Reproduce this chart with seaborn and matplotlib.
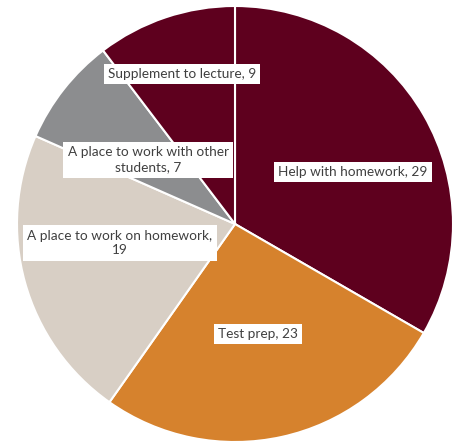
import matplotlib
matplotlib.use("Agg")
import matplotlib.pyplot as plt
import seaborn as sns

# slices, clockwise from 12 o'clock
categories = ["Help with homework", "Test prep", "A place to work on homework",
              "A place to work with other students", "Supplement to lecture"]
counts = [29, 23, 19, 7, 9]
label_texts = ["Help with homework, 29", "Test prep, 23", "A place to work on homework,\n19",
               "A place to work with other\nstudents, 7", "Supplement to lecture, 9"]
colors = ["#5E001E", "#D6822D", "#D8CFC5", "#8C8D8F", "#5E001E"]

# label centres in pixel coords of the 467x445 image (layout only)
label_px = [(353, 172), (258, 334), (120, 243), (148, 160), (182, 74)]
CX, CY, R = 235, 224, 218

sns.set_theme(style="white")
plt.rcParams["font.family"] = ["Lato", "DejaVu Sans"]

fig = plt.figure(figsize=(4.67, 4.45), dpi=100)
ax = fig.add_axes([(CX - R) / 467, (445 - CY - R) / 445, 2 * R / 467, 2 * R / 445])

ax.pie(counts, colors=sns.color_palette(colors), startangle=90, counterclock=False,
       radius=1, wedgeprops=dict(edgecolor="white", linewidth=1.5))

for txt, (px, py) in zip(label_texts, label_px):
    ax.text((px - CX) / R, (CY - py) / R, txt, ha="center", va="center", fontsize=9.8,
            color="#404040", linespacing=1.3,
            bbox=dict(boxstyle="square,pad=0.3", facecolor="white", edgecolor="none"))

ax.set_xlim(-1, 1)
ax.set_ylim(-1, 1)
ax.set_aspect("equal")
ax.axis("off")

fig.savefig("out.png", dpi=100)
